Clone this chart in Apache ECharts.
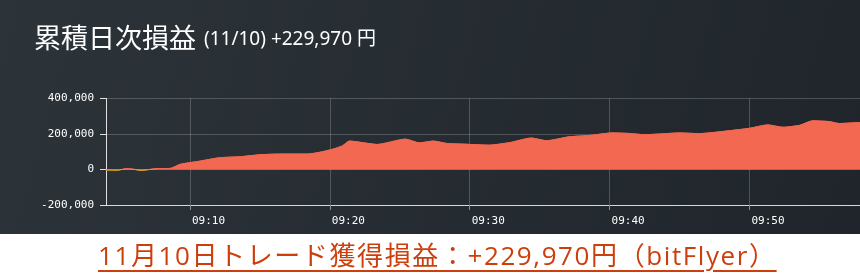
<!DOCTYPE html>
<html>
<head>
<meta charset="utf-8">
<script src="https://cdn.jsdelivr.net/npm/echarts@6/dist/echarts.min.js"></script>
<style>
  html, body { margin: 0; padding: 0; background: #ffffff; }
  #wrap { position: relative; width: 860px; height: 275px; overflow: hidden; }
  #chart { width: 860px; height: 275px; }
  #caption {
    position: absolute; left: 98px; top: 238px;
    font: 26px/34px "Open Sans", "Noto Sans CJK JP", sans-serif;
    letter-spacing: 1.6px;
    color: #cc3f0c;
    text-decoration: underline;
    text-decoration-thickness: 1.5px;
    text-underline-offset: 5px;
    white-space: nowrap;
  }
</style>
</head>
<body>
<div id="wrap">
  <div id="chart"></div>
  <div id="caption"></div>
</div>
<script>
// Minutes after 09:00 for each sample, and cumulative P&L (JPY) at that moment
const minutes = [4.0, 4.8, 5.5, 6.0, 6.5, 7.1, 7.6, 8.6, 9.3, 10.7, 12.1, 13.6, 15.0, 16.4, 18.4,
  19.3, 20.2, 20.9, 21.4, 23.4, 25.4, 26.4, 27.4, 28.4, 29.5, 31.4, 32.9, 34.4, 35.5, 37.1,
  38.6, 40.2, 41.4, 42.5, 43.6, 45.0, 46.4, 48.4, 50.0, 51.3, 52.4, 53.6, 54.5, 55.7, 56.4, 57.9];
const pnl = [-3000, -4000, 5000, 1000, -5000, 0, 5000, 6000, 29000, 47000, 66000, 72000, 83000, 87000, 87000,
  97000, 114000, 133000, 160000, 141000, 171000, 150000, 160000, 146000, 143000, 137000, 152000, 177000, 162000, 184000,
  192000, 206000, 203000, 196000, 200000, 206000, 202000, 217000, 232000, 251000, 238000, 249000, 274000, 270000, 259000, 265000];
const yTicks = [-200000, 0, 200000, 400000];
const titleMain = '累積日次損益';
const titleSub = '(11/10) +229,970 円';
const caption = '11月10日トレード獲得損益：+229,970円（bitFlyer）';

document.getElementById('caption').textContent = caption;

const gainColor = '#f26850';
const lossColor = '#e09a22';
const monoFont = '"DejaVu Sans Mono", monospace';
const pad2 = n => String(n).padStart(2, '0');

const chart = echarts.init(document.getElementById('chart'), null, { renderer: 'canvas' });

chart.setOption({
  animation: false,
  backgroundColor: 'transparent',
  graphic: [
    {
      type: 'rect', z: -10, silent: true,
      shape: { x: 0, y: 0, width: 860, height: 234 },
      style: {
        fill: new echarts.graphic.LinearGradient(0, 0, 1, 1, [
          { offset: 0, color: '#2c3339' },
          { offset: 1, color: '#1f252b' }
        ])
      }
    },
    {
      type: 'text', left: 34, top: 24,
      style: { text: titleMain, fill: '#ffffff', font: '27px "Noto Sans CJK JP", sans-serif' }
    },
    {
      type: 'text', left: 204, top: 30,
      style: { text: titleSub, fill: '#ffffff', font: '19px "Noto Sans", "Noto Sans CJK JP", sans-serif' }
    }
  ],
  grid: { left: 106, right: 0, top: 98.5, bottom: 70, containLabel: false },
  xAxis: {
    type: 'value',
    min: minutes[0],
    max: minutes[minutes.length - 1],
    minInterval: 10,
    maxInterval: 10,
    axisLine: { show: true, onZero: false, lineStyle: { color: '#d8d8d8', width: 1 } },
    axisTick: { show: true, length: 5, lineStyle: { color: '#8a8f94' } },
    axisLabel: {
      showMinLabel: false, showMaxLabel: false,
      color: '#ffffff', fontFamily: monoFont, fontSize: 11, margin: 11,
      align: 'left', padding: [0, 0, 0, 2],
      formatter: v => '09:' + pad2(Math.round(v))
    },
    splitLine: { show: true, lineStyle: { color: 'rgba(255,255,255,0.2)', width: 1 } }
  },
  yAxis: {
    type: 'value',
    min: yTicks[0],
    max: yTicks[yTicks.length - 1],
    interval: yTicks[1] - yTicks[0],
    axisLine: { show: true, lineStyle: { color: '#e0e0e0', width: 1 } },
    axisTick: { show: true, length: 6, lineStyle: { color: '#e0e0e0' } },
    axisLabel: {
      color: '#ffffff', fontFamily: monoFont, fontSize: 11, margin: 12,
      formatter: v => v.toLocaleString('en-US')
    },
    splitLine: { show: true, lineStyle: { color: 'rgba(255,255,255,0.2)', width: 1 } }
  },
  series: [{
    type: 'line',
    data: minutes.map((m, i) => [m, pnl[i]]),
    showSymbol: false,
    smooth: 0.2,
    lineStyle: { width: 1, color: gainColor },
    areaStyle: { opacity: 1, color: gainColor }
  }]
});

// Split the fill colour at the zero line: gains above, losses below
const yTop = chart.convertToPixel({ yAxisIndex: 0 }, yTicks[yTicks.length - 1]);
const yBottom = chart.convertToPixel({ yAxisIndex: 0 }, yTicks[0]);
const yZero = chart.convertToPixel({ yAxisIndex: 0 }, 0);
const zeroAt = (yZero - yTop) / (yBottom - yTop);
const split = () => new echarts.graphic.LinearGradient(0, yTop, 0, yBottom, [
  { offset: 0, color: gainColor },
  { offset: zeroAt, color: gainColor },
  { offset: zeroAt, color: lossColor },
  { offset: 1, color: lossColor }
], true);
chart.setOption({
  series: [{ lineStyle: { color: split() }, areaStyle: { color: split() } }]
});
</script>
</body>
</html>
